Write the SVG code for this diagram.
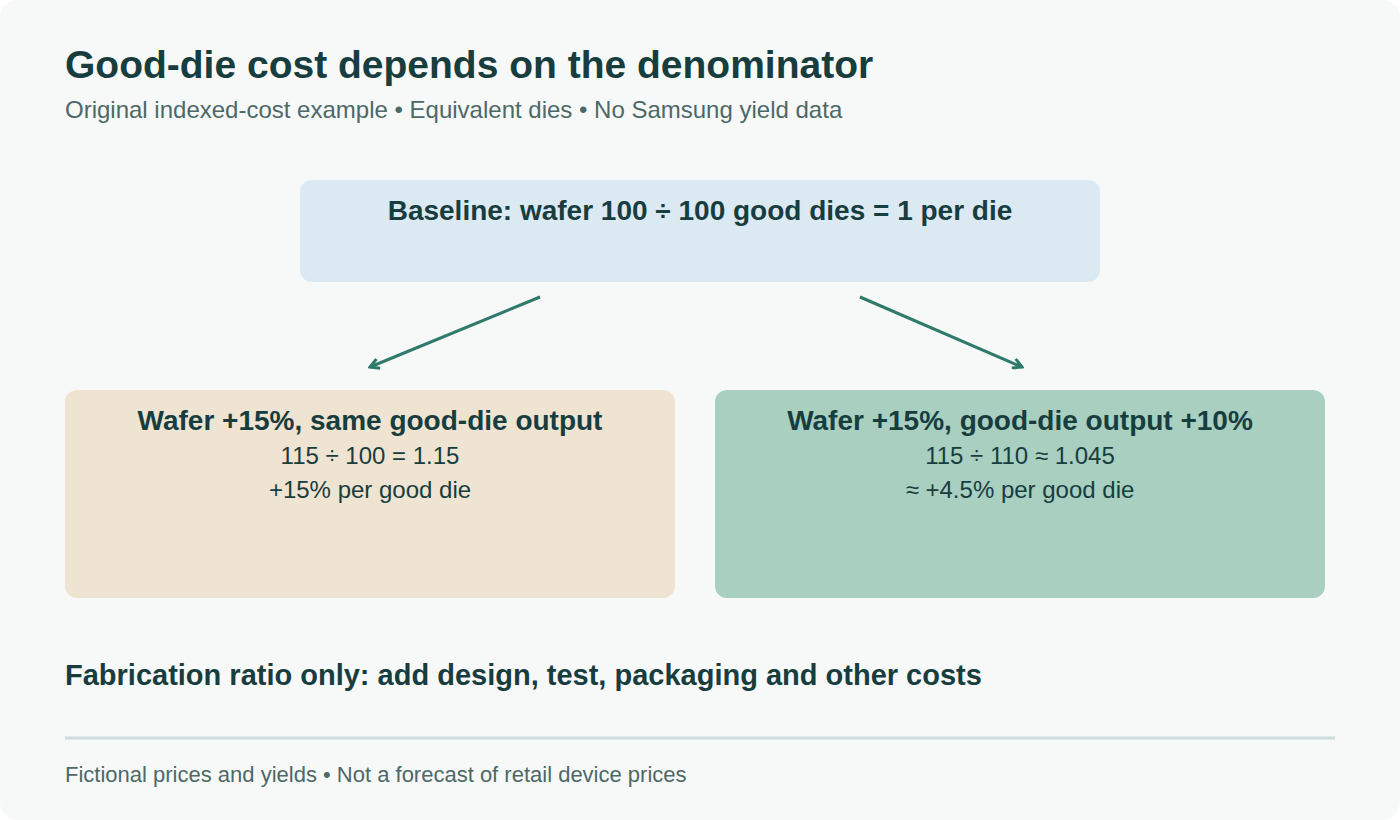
<svg xmlns="http://www.w3.org/2000/svg" width="1400" height="820" viewBox="0 0 1400 820">
<style>
text{font-family:"Liberation Sans",Arial,sans-serif;fill:#173d3f}
.h{font-weight:bold;text-anchor:middle}
.b{text-anchor:middle;font-size:24px}
.muted{fill:#4d6868}
.conn{stroke:#2f7a6a;stroke-width:3;fill:none}
</style>
<defs>
<marker id="ah" viewBox="0 0 12 12" refX="10" refY="6" markerWidth="12" markerHeight="12" markerUnits="userSpaceOnUse" orient="auto">
<path d="M1,1 L10,6 L1,11" fill="none" stroke="#2f7a6a" stroke-width="3"/>
</marker>
</defs>
<rect x="0" y="0" width="1400" height="820" fill="#ffffff"/>
<rect x="0" y="0" width="1400" height="820" rx="18" fill="#f7f9f8"/>
<g id="header">
<text x="65" y="78" font-size="39" font-weight="bold">Good-die cost depends on the denominator</text>
<text x="65" y="118" font-size="24" class="muted">Original indexed-cost example • Equivalent dies • No Samsung yield data</text>
</g>
<g id="connectors">
<line class="conn" x1="540" y1="297" x2="370" y2="367" marker-end="url(#ah)"/>
<line class="conn" x1="860" y1="297" x2="1022" y2="367" marker-end="url(#ah)"/>
</g>
<g id="baseline">
<rect x="300" y="180" width="800" height="102" rx="12" fill="#dbe9f2"/>
<text class="h" x="700" y="220" font-size="28">Baseline: wafer 100 ÷ 100 good dies = 1 per die</text>
</g>
<g id="same-output">
<rect x="65" y="390" width="610" height="208" rx="12" fill="#efe3d1"/>
<text class="h" x="370" y="430" font-size="28">Wafer +15%, same good-die output</text>
<text class="b" x="370" y="464">115 ÷ 100 = 1.15</text>
<text class="b" x="370" y="498">+15% per good die</text>
</g>
<g id="more-output">
<rect x="715" y="390" width="610" height="208" rx="12" fill="#a8cfbf"/>
<text class="h" x="1020" y="430" font-size="28">Wafer +15%, good-die output +10%</text>
<text class="b" x="1020" y="464">115 ÷ 110 ≈ 1.045</text>
<text class="b" x="1020" y="498">≈ +4.5% per good die</text>
</g>
<g id="footer">
<text x="65" y="685" font-size="29" font-weight="bold">Fabrication ratio only: add design, test, packaging and other costs</text>
<line x1="65" y1="738" x2="1335" y2="738" stroke="#cddedc" stroke-width="3"/>
<text x="65" y="782" font-size="22" class="muted">Fictional prices and yields • Not a forecast of retail device prices</text>
</g>
</svg>
